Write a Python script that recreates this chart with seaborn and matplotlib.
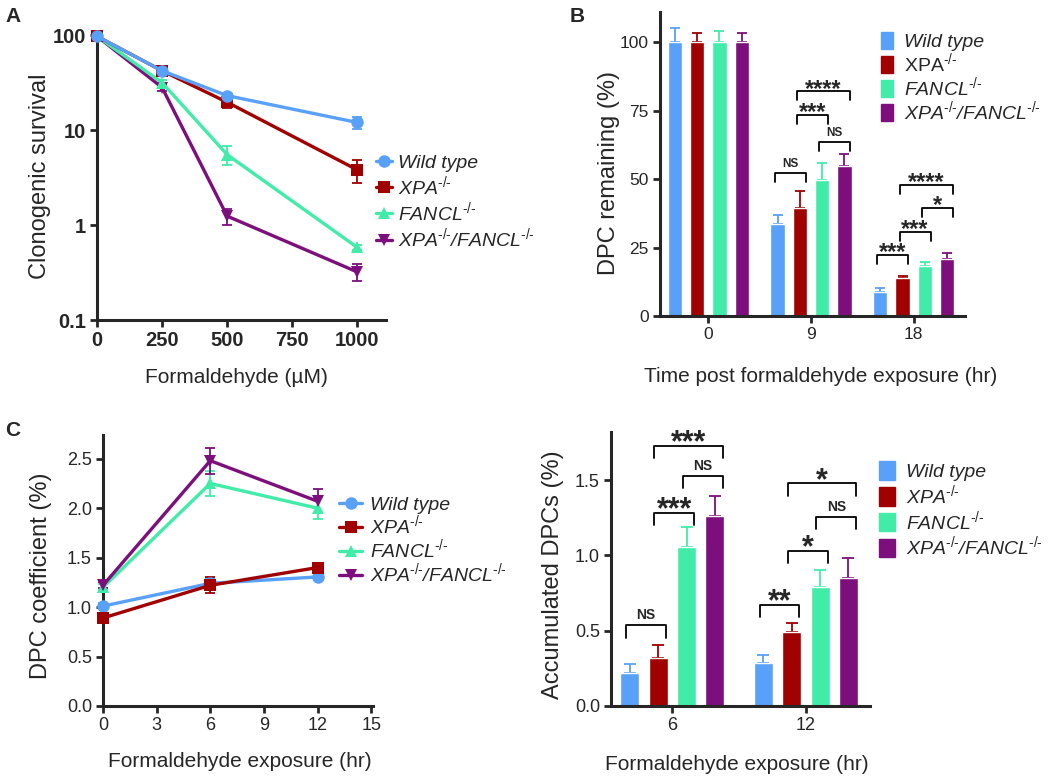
import numpy as np
import pandas as pd
import matplotlib
matplotlib.use("Agg")
import matplotlib.pyplot as plt
import seaborn as sns
from matplotlib.lines import Line2D
from matplotlib.patches import Patch
from matplotlib.ticker import NullLocator

sns.set_style("ticks")
plt.rcParams['font.family'] = ['Liberation Sans', 'DejaVu Sans']
plt.rcParams['mathtext.fontset'] = 'custom'
plt.rcParams['mathtext.rm'] = 'Liberation Sans'
plt.rcParams['mathtext.it'] = 'Liberation Sans:italic'

# ---- shared ----
genotypes = ["Wild type", "XPA", "FANCL", "XPA/FANCL"]
colors = ["#58a0f8", "#a00000", "#40eca8", "#7d0f7d"]
marks = ["o", "s", "^", "v"]
KO = "$^{\\mathit{\u2010/\u2010}}$"
labels = ["Wild type", "XPA" + KO, "FANCL" + KO, "XPA" + KO + "/FANCL" + KO]

# ---- A: clonogenic survival ----
dose_a = [0, 250, 500, 1000]
surv_wt = [97, 42, 23, 12]
surv_xpa = [97, 42, 19.6, 3.8]
surv_fancl = [97, 31.5, 5.5, 0.58]
surv_dko = [97, 28, 1.24, 0.32]
serr_wt = [2, 3, 1.5, 1.8]
serr_xpa = [2, 4, 2.5, 1.0]
serr_fancl = [2, 2, 1.25, 0.04]
serr_dko = [2, 2, 0.25, 0.065]

# ---- B: DPC remaining ----
time_b = ["0", "9", "18"]
rem_wt = [100, 33.5, 8.8]
rem_xpa = [100, 39.3, 13.7]
rem_fancl = [100, 49.8, 18.3]
rem_dko = [100, 54.6, 20.9]
rerr_wt = [5.0, 3.3, 1.5]
rerr_xpa = [3.5, 6.2, 0.9]
rerr_fancl = [4.0, 6.2, 1.4]
rerr_dko = [3.4, 4.7, 2.0]
# (group, bar i, bar j, bracket top, label)
sig_b = [(1, 0, 1, 52.2, "NS"), (1, 1, 2, 73.3, "***"), (1, 1, 3, 82.0, "****"),
         (1, 2, 3, 63.5, "NS"), (2, 0, 1, 22.2, "***"), (2, 1, 2, 30.7, "***"),
         (2, 2, 3, 39.5, "*"), (2, 1, 3, 47.8, "****")]

# ---- C: DPC coefficient ----
time_c = [0, 6, 12]
coef_wt = [1.01, 1.24, 1.305]
coef_xpa = [0.89, 1.22, 1.40]
coef_fancl = [1.20, 2.25, 2.00]
coef_dko = [1.22, 2.48, 2.07]
cerr_wt = [0.03, 0.05, 0.03]
cerr_xpa = [0.03, 0.08, 0.04]
cerr_fancl = [0.03, 0.13, 0.11]
cerr_dko = [0.03, 0.13, 0.12]

# ---- D: accumulated DPCs ----
time_d = ["6", "12"]
acc_wt = [0.217, 0.288]
acc_xpa = [0.322, 0.49]
acc_fancl = [1.054, 0.792]
acc_dko = [1.26, 0.852]
aerr_wt = [0.062, 0.05]
aerr_xpa = [0.084, 0.064]
aerr_fancl = [0.133, 0.11]
aerr_dko = [0.138, 0.13]
sig_d = [(0, 0, 1, 0.535, "NS"), (0, 1, 2, 1.282, "***"), (0, 2, 3, 1.527, "NS"),
         (0, 1, 3, 1.726, "***"), (1, 0, 1, 0.672, "**"), (1, 1, 2, 1.032, "*"),
         (1, 2, 3, 1.254, "NS"), (1, 1, 3, 1.478, "*")]


def long_df(xs, series, xname, yname):
    rows = []
    for g, vals in zip(genotypes, series):
        for x, v in zip(xs, vals):
            rows.append({xname: x, yname: v, "geno": g})
    return pd.DataFrame(rows)


def style_axes(ax, tick_size, bold=False):
    sns.despine(ax=ax)
    for s in ["left", "bottom"]:
        ax.spines[s].set_linewidth(2.2)
    ax.tick_params(width=2.0, length=5, labelsize=tick_size, pad=3)
    if bold:
        for t in ax.get_xticklabels() + ax.get_yticklabels():
            t.set_fontweight("bold")


def add_errbars(ax, xs, series, errs, lw=1.3):
    for vals, err, c in zip(series, errs, colors):
        ax.errorbar(xs, vals, yerr=err, fmt="none", ecolor=c, elinewidth=lw,
                    capsize=3.5, capthick=lw, clip_on=False, zorder=3)


def add_bar_errs(ax, errs_list, cap):
    for h, errs in enumerate(errs_list):
        bars = ax.containers[h]
        xs = [b.get_x() + b.get_width() / 2 for b in bars]
        vals = [b.get_height() for b in bars]
        ax.errorbar(xs, vals, yerr=[np.zeros(len(errs)), errs], fmt="none",
                    ecolor=colors[h], elinewidth=1.3, capsize=cap, capthick=1.3,
                    zorder=1)


def add_brackets(ax, sigs, leg, star_fs, ns_fs):
    for g, i, j, y, lab in sigs:
        bi = ax.containers[i][g]
        bj = ax.containers[j][g]
        w = bi.get_width()
        x1 = bi.get_x() + w * 0.5 - 0.2 * w
        x2 = bj.get_x() + w * 0.5 + 0.4 * w
        ax.plot([x1, x1, x2, x2], [y - leg, y, y, y - leg], color="black",
                lw=1.3, clip_on=False)
        if lab == "NS":
            ax.annotate(lab, xy=((x1 + x2) / 2, y), xytext=(0, 2.5),
                        textcoords="offset points", ha="center", va="bottom",
                        fontsize=ns_fs, fontweight="bold")
        else:
            ax.annotate(lab, xy=((x1 + x2) / 2, y), xytext=(0, -0.18 * star_fs),
                        textcoords="offset points", ha="center", va="baseline",
                        fontsize=star_fs, fontweight="bold")


fig = plt.figure(figsize=(10.5, 7.8), dpi=100)
W, H = 1050.0, 780.0


def make_ax(l, r, t, b):
    return fig.add_axes([l / W, 1 - b / H, (r - l) / W, (b - t) / H])


pal = dict(zip(genotypes, colors))
mk = dict(zip(genotypes, marks))

# ===== Panel A =====
axA = make_ax(97, 386, 33, 320)
dfA = long_df(dose_a, [surv_wt, surv_xpa, surv_fancl, surv_dko], "dose", "surv")
sns.lineplot(data=dfA, x="dose", y="surv", hue="geno", style="geno",
             hue_order=genotypes[::-1], style_order=genotypes[::-1],
             palette=pal, markers=mk, dashes=False, lw=2.4, markersize=9,
             markeredgewidth=0, legend=False, ax=axA, clip_on=False, zorder=4)
add_errbars(axA, dose_a, [surv_wt, surv_xpa, surv_fancl, surv_dko],
            [serr_wt, serr_xpa, serr_fancl, serr_dko])
axA.set_yscale("log")
axA.set_ylim(0.1, 105)
axA.set_xlim(0, 1110)
axA.set_yticks([0.1, 1, 10, 100])
axA.set_yticklabels(["0.1", "1", "10", "100"])
axA.yaxis.set_minor_locator(NullLocator())
axA.set_xticks([0, 250, 500, 750, 1000])
axA.set_xticklabels(["0", "250", "500", "750", "1000"])
style_axes(axA, 14.5, bold=True)
axA.set_xlabel("Formaldehyde (µM)", fontsize=15)
axA.set_ylabel("Clonogenic survival", fontsize=17)
axA.xaxis.set_label_coords(0.484, -0.167)
axA.yaxis.set_label_coords(-0.16, 0.5)
hA = [Line2D([], [], color=c, marker=m, lw=2.4, markersize=9, markeredgewidth=0)
      for c, m in zip(colors, marks)]
fig.legend(hA, labels, loc="upper left", bbox_to_anchor=(376 / W, 1 - 154 / H),
           frameon=False, handlelength=0.8, handletextpad=0.35,
           labelspacing=0.12, borderpad=0, borderaxespad=0,
           prop={"style": "italic", "size": 14})

# ===== Panel B =====
axB = make_ax(660, 965, 12, 316)
dfB = long_df(time_b, [rem_wt, rem_xpa, rem_fancl, rem_dko], "time", "rem")
sns.barplot(data=dfB, x="time", y="rem", hue="geno", hue_order=genotypes,
            palette=pal, order=time_b, width=0.868, gap=0.36, saturation=1,
            legend=False, ax=axB, zorder=2)
add_bar_errs(axB, [rerr_wt, rerr_xpa, rerr_fancl, rerr_dko], 3.5)
add_brackets(axB, sig_b, 3.3, 17, 8.5)
axB.set_ylim(0, 111)
axB.set_xlim(-0.47, 2.5)
axB.set_yticks([0, 25, 50, 75, 100])
style_axes(axB, 12.5)
axB.set_xlabel("Time post formaldehyde exposure (hr)", fontsize=15)
axB.set_ylabel("DPC remaining (%)", fontsize=17)
axB.xaxis.set_label_coords(0.528, -0.168)
axB.yaxis.set_label_coords(-0.131, 0.47)
hB = [Patch(facecolor=c, edgecolor=c) for c in colors]
legB = fig.legend(hB, labels, loc="upper left", bbox_to_anchor=(881 / W, 1 - 32 / H),
                  frameon=False, handlelength=0.6, handleheight=1.0, handletextpad=0.6,
                  labelspacing=0.0, borderpad=0, borderaxespad=0,
                  prop={"style": "italic", "size": 14})
legB.get_texts()[1].set_fontstyle("normal")

# ===== Panel C =====
axC = make_ax(103, 373, 435, 706)
dfC = long_df(time_c, [coef_wt, coef_xpa, coef_fancl, coef_dko], "time", "coef")
sns.lineplot(data=dfC, x="time", y="coef", hue="geno", style="geno",
             hue_order=genotypes, style_order=genotypes,
             palette=pal, markers=mk, dashes=False, lw=2.4, markersize=9,
             markeredgewidth=0, legend=False, ax=axC, clip_on=False, zorder=4)
add_errbars(axC, time_c, [coef_wt, coef_xpa, coef_fancl, coef_dko],
            [cerr_wt, cerr_xpa, cerr_fancl, cerr_dko])
axC.set_xlim(0, 15.1)
axC.set_ylim(0, 2.74)
axC.set_xticks([0, 3, 6, 9, 12, 15])
axC.set_yticks([0, 0.5, 1.0, 1.5, 2.0, 2.5])
axC.set_yticklabels(["0.0", "0.5", "1.0", "1.5", "2.0", "2.5"])
style_axes(axC, 13)
axC.set_xlabel("Formaldehyde exposure (hr)", fontsize=15)
axC.set_ylabel("DPC coefficient (%)", fontsize=17)
axC.xaxis.set_label_coords(0.507, -0.17)
axC.yaxis.set_label_coords(-0.19, 0.48)
hC = [Line2D([], [], color=c, marker=m, lw=2.4, markersize=9, markeredgewidth=0)
      for c, m in zip(colors, marks)]
fig.legend(hC, labels, loc="upper left", bbox_to_anchor=(339 / W, 1 - 496 / H),
           frameon=False, handlelength=1.2, handletextpad=0.4,
           labelspacing=0.0, borderpad=0, borderaxespad=0,
           prop={"style": "italic", "size": 14})

# ===== Panel D =====
axD = make_ax(611, 870, 432, 706)
dfD = long_df(time_d, [acc_wt, acc_xpa, acc_fancl, acc_dko], "time", "acc")
sns.barplot(data=dfD, x="time", y="acc", hue="geno", hue_order=genotypes,
            palette=pal, order=time_d, width=0.85, gap=0.33, saturation=1,
            legend=False, ax=axD, zorder=2)
add_bar_errs(axD, [aerr_wt, aerr_xpa, aerr_fancl, aerr_dko], 4)
add_brackets(axD, sig_d, 0.08, 22, 10)
axD.set_ylim(0, 1.82)
axD.set_xlim(-0.46, 1.48)
axD.set_yticks([0, 0.5, 1.0, 1.5])
axD.set_yticklabels(["0.0", "0.5", "1.0", "1.5"])
style_axes(axD, 13)
axD.set_xlabel("Formaldehyde exposure (hr)", fontsize=15)
axD.set_ylabel("Accumulated DPCs (%)", fontsize=17)
axD.xaxis.set_label_coords(0.487, -0.179)
axD.yaxis.set_label_coords(-0.183, 0.478)
hD = [Patch(facecolor=c, edgecolor=c) for c in colors]
fig.legend(hD, labels, loc="upper left", bbox_to_anchor=(879 / W, 1 - 461 / H),
           frameon=False, handlelength=0.8, handleheight=1.1, handletextpad=0.6,
           labelspacing=0.1, borderpad=0, borderaxespad=0,
           prop={"style": "italic", "size": 14})

# panel letters
for lab, x, y in [("A", 13, 17), ("B", 577, 17), ("C", 13, 431)]:
    fig.text(x / W, 1 - y / H, lab, ha="center", va="center", fontsize=15,
             fontweight="bold")

fig.savefig("out.png", dpi=100)
